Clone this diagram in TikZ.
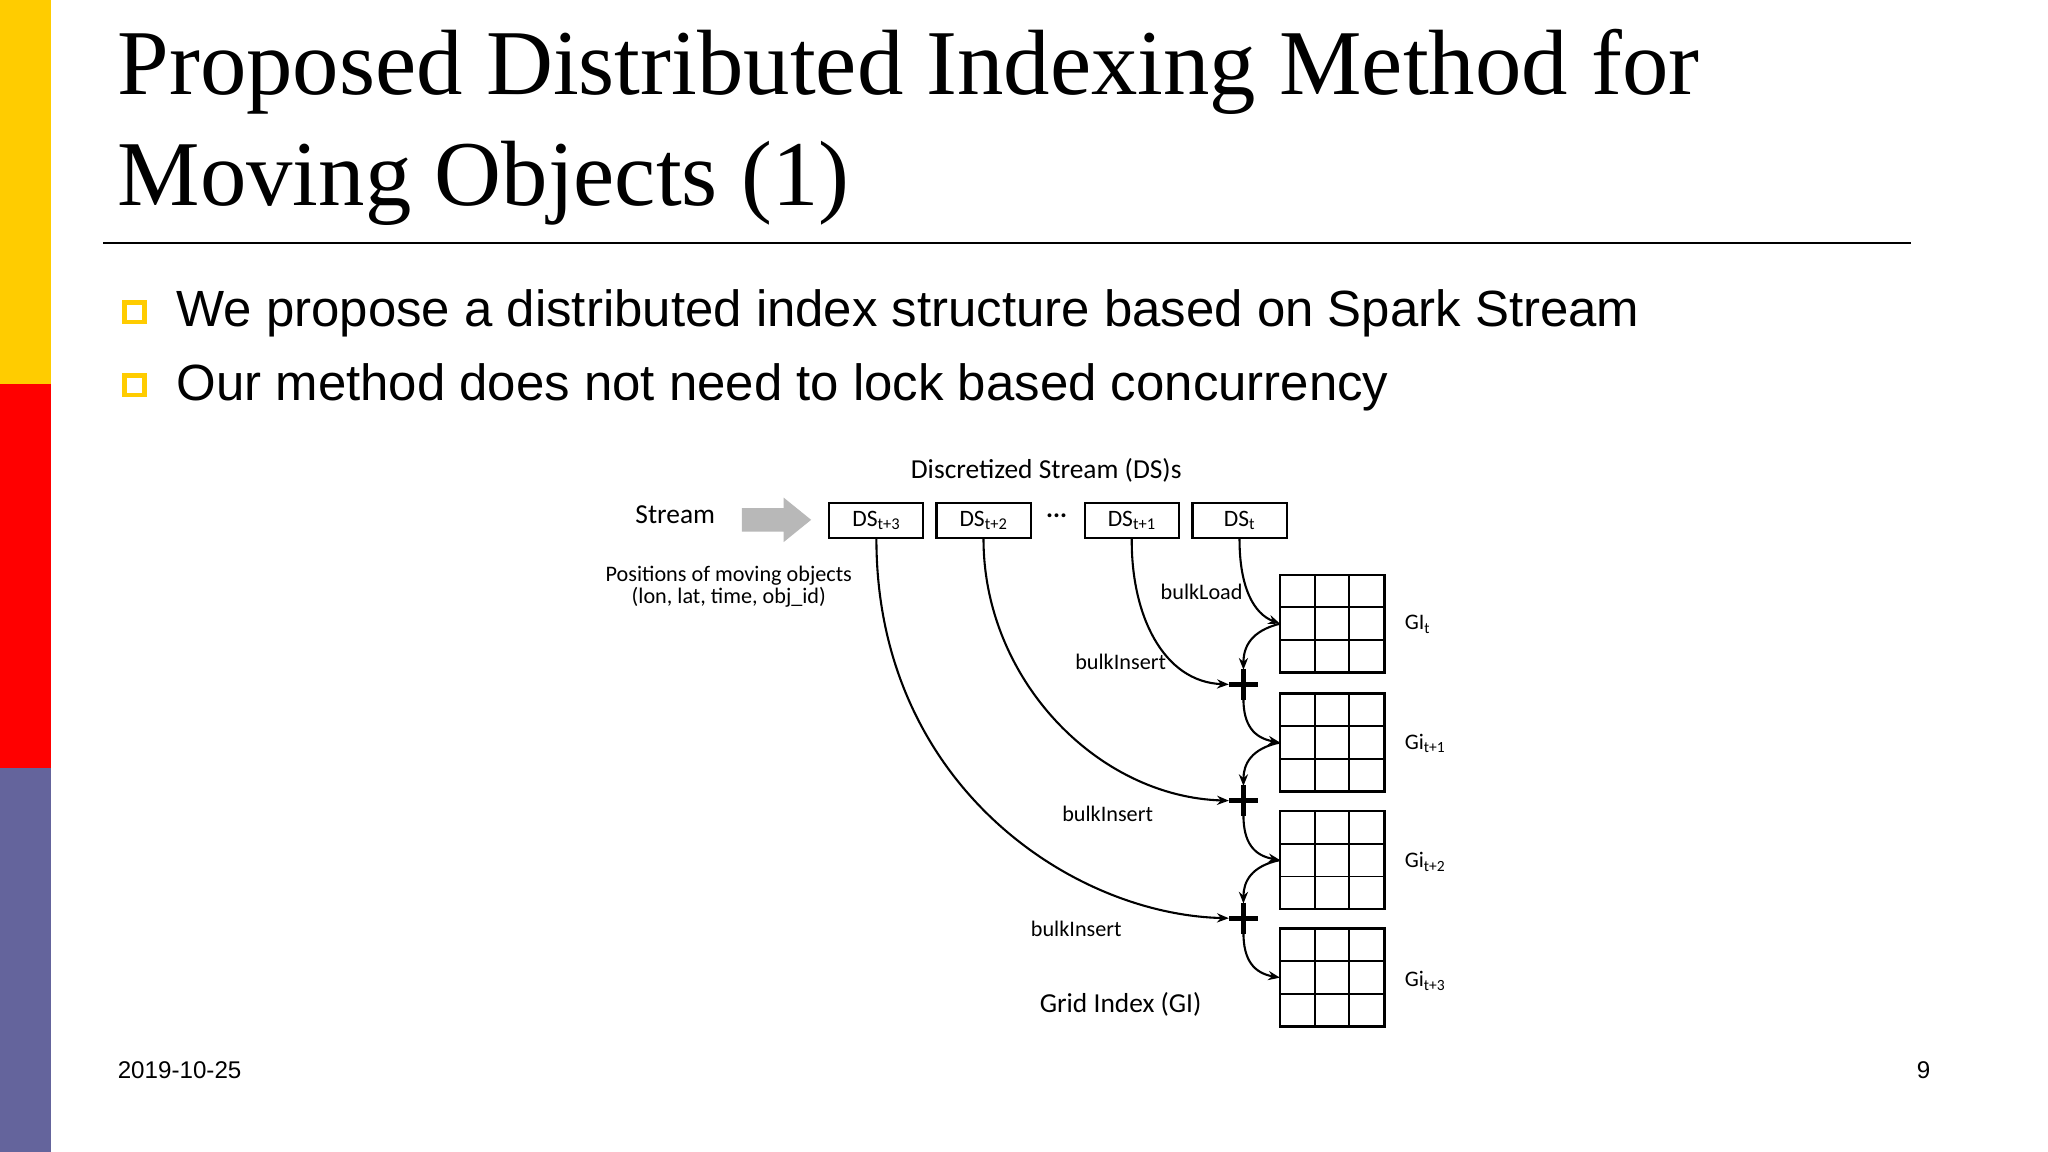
\documentclass[tikz,border=0pt]{standalone}
\usepackage{fontspec}
\setmainfont{Liberation Serif}
\newfontfamily\arialf{Liberation Sans}
\newfontfamily\calf{Carlito}
\usetikzlibrary{arrows.meta}
\definecolor{barY}{HTML}{FFCC00}
\definecolor{barR}{HTML}{FF0000}
\definecolor{barP}{HTML}{64649C}
\begin{document}
\begin{tikzpicture}[x=1pt,y=-1pt,
  dsbox/.style={draw,line width=1.6pt,minimum width=72pt,minimum height=27pt,inner sep=0pt,font=\calf\fontsize{18}{18}\selectfont},
  lbl/.style={font=\calf\fontsize{17}{17}\selectfont},
  arr/.style={-{Stealth[length=9pt,width=7pt]},line width=1.6pt},
  bul/.style={draw=barY,line width=3.5pt,minimum size=15pt,inner sep=0pt}]
\useasboundingbox (0,0) rectangle (1568,882);
\fill[white] (0,0) rectangle (1568,882);
\fill[barY] (0,0) rectangle (39,294);
\fill[barR] (0,294) rectangle (39,588);
\fill[barP] (0,588) rectangle (39,882);
\node[anchor=base west,inner sep=0pt,font=\fontsize{71}{71}\selectfont] (t1) at (90,72) {Proposed Distributed Indexing Method for};
\node[anchor=base west,inner sep=0pt,font=\fontsize{71}{71}\selectfont] (t2) at (90,157) {Moving Objects (1)};
\draw[line width=2pt] (79,186) -- (1463,186);
\node[bul] (b1) at (103,239) {};
\node[bul] (b2) at (103,295) {};
\node[anchor=base west,inner sep=0pt,font=\arialf\fontsize{39}{39}\selectfont] (l1) at (135,250) {We propose a distributed index structure based on Spark Stream};
\node[anchor=base west,inner sep=0pt,font=\arialf\fontsize{39}{39}\selectfont] (l2) at (135,307) {Our method does not need to lock based concurrency};
% diagram
\node[font=\calf\fontsize{21}{21}\selectfont] (dst) at (801,360) {Discretized Stream (DS)s};
\node[font=\calf\fontsize{21}{21}\selectfont] (str) at (517,394) {Stream};
\fill[black!28] (568,389) -- (600,389) -- (600,381) -- (621,398) -- (600,415) -- (600,407) -- (568,407) -- cycle;
\node[dsbox] (d3) at (671,398.5) {DS\textsubscript{t+3}};
\node[dsbox] (d2) at (753,398.5) {DS\textsubscript{t+2}};
\node[font=\calf\bfseries\fontsize{20}{20}\selectfont] (dots) at (809,395) {...};
\node[dsbox] (d1) at (866.5,398.5) {DS\textsubscript{t+1}};
\node[dsbox] (d0) at (949,398.5) {DS\textsubscript{t}};
\node[lbl,align=center] (pos) at (558,449) {Positions of moving objects\\(lon, lat, time, obj\_id)};
\foreach \n/\y in {g0/440,g1/531,g2/621,g3/711}{
  \draw[line width=1.8pt] (980,\y) rectangle (1060,\y+75);
  \draw[line width=1.3pt] (980,\y+25) -- (1060,\y+25) (980,\y+50) -- (1060,\y+50)
     (1007,\y) -- (1007,\y+75) (1033,\y) -- (1033,\y+75);
  \coordinate (\n) at (980,\y+37.5);
}
\node[lbl,anchor=west] (gl0) at (1072,478) {GI\textsubscript{t}};
\node[lbl,anchor=west] (gl1) at (1072,569) {Gi\textsubscript{t+1}};
\node[lbl,anchor=west] (gl2) at (1072,660) {Gi\textsubscript{t+2}};
\node[lbl,anchor=west] (gl3) at (1072,751) {Gi\textsubscript{t+3}};
\foreach \n/\y in {p1/524,p2/613,p3/703}{
  \node[inner sep=0pt,minimum size=22pt] (\n) at (952,\y) {};
  \draw[line width=3.8pt] (941,\y) -- (963,\y) (952,\y-12) -- (952,\y+12);
}
\draw[arr] (d0.south) .. controls (949,450) and (960,470) .. (g0);
\draw[arr] (d1.south) .. controls (866,470) and (890,522) .. (p1.west);
\draw[arr] (d2.south) .. controls (753,520) and (840,610) .. (p2.west);
\draw[arr] (d3.south) .. controls (671,600) and (820,700) .. (p3.west);
\draw[arr] (g0) .. controls (958,483) and (952,495) .. (p1.north);
\draw[arr] (p1.south) .. controls (952,555) and (960,565) .. (g1);
\draw[arr] (g1) .. controls (958,573) and (952,585) .. (p2.north);
\draw[arr] (p2.south) .. controls (952,645) and (960,655) .. (g2);
\draw[arr] (g2) .. controls (958,663) and (952,675) .. (p3.north);
\draw[arr] (p3.south) .. controls (952,735) and (960,745) .. (g3);
\node[lbl] (bl) at (920,453) {bulkLoad};
\node[lbl] (bi1) at (858,507) {bulkInsert};
\node[lbl] (bi2) at (848,623) {bulkInsert};
\node[lbl] (bi3) at (824,711) {bulkInsert};
\node[font=\calf\fontsize{21}{21}\selectfont] (gi) at (858,769) {Grid Index (GI)};
\node[anchor=base west,inner sep=0pt,font=\arialf\fontsize{18.5}{18.5}\selectfont] (date) at (90,826) {2019-10-25};
\node[anchor=base east,inner sep=0pt,font=\arialf\fontsize{18.5}{18.5}\selectfont] (pg) at (1478,826) {9};
\end{tikzpicture}
\end{document}
